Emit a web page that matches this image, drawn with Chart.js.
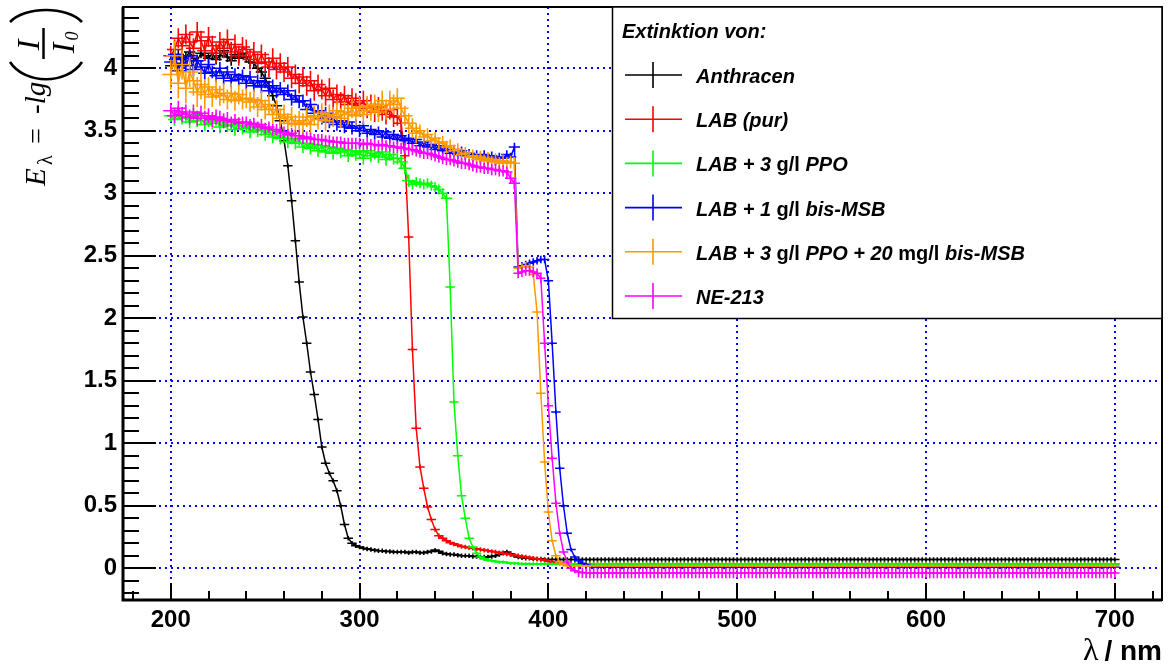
<!DOCTYPE html>
<html>
<head>
<meta charset="utf-8">
<script src="https://cdn.jsdelivr.net/npm/chart.js@4.4.1/dist/chart.umd.min.js"></script>
<style>
  html, body { margin: 0; padding: 0; background: #fff; }
  canvas { display: block; }
</style>
</head>
<body>
<canvas id="extinction" width="1169" height="666"></canvas>
<script>
// Wellenlaengen der Messpunkte (nm)
const wavelengths = [
  200, 202, 204, 206, 208, 210, 212, 214, 216, 218,
  220, 222, 224, 226, 228, 230, 232, 234, 236, 238,
  240, 242, 244, 246, 248, 250, 252, 254, 256, 258,
  260, 262, 264, 266, 268, 270, 272, 274, 276, 278,
  280, 282, 284, 286, 288, 290, 292, 294, 296, 298,
  300, 302, 304, 306, 308, 310, 312, 314, 316, 318,
  320, 322, 324, 326, 328, 330, 332, 334, 336, 338,
  340, 342, 344, 346, 348, 350, 352, 354, 356, 358,
  360, 362, 364, 366, 368, 370, 372, 374, 376, 378,
  380, 382, 384, 386, 388, 390, 392, 394, 396, 398,
  400, 402, 404, 406, 408, 410, 412, 414, 416, 418,
  420, 422, 424, 426, 428, 430, 432, 434, 436, 438,
  440, 442, 444, 446, 448, 450, 452, 454, 456, 458,
  460, 462, 464, 466, 468, 470, 472, 474, 476, 478,
  480, 482, 484, 486, 488, 490, 492, 494, 496, 498,
  500, 502, 504, 506, 508, 510, 512, 514, 516, 518,
  520, 522, 524, 526, 528, 530, 532, 534, 536, 538,
  540, 542, 544, 546, 548, 550, 552, 554, 556, 558,
  560, 562, 564, 566, 568, 570, 572, 574, 576, 578,
  580, 582, 584, 586, 588, 590, 592, 594, 596, 598,
  600, 602, 604, 606, 608, 610, 612, 614, 616, 618,
  620, 622, 624, 626, 628, 630, 632, 634, 636, 638,
  640, 642, 644, 646, 648, 650, 652, 654, 656, 658,
  660, 662, 664, 666, 668, 670, 672, 674, 676, 678,
  680, 682, 684, 686, 688, 690, 692, 694, 696, 698,
  700
];

// Extinktion E = -lg(I/I0) je Probe
const anthracen = [
  4.02, 4.07, 4.11, 4.04, 4.09, 4.13, 4.08, 4.06, 4.12, 4.10,
  4.08, 4.12, 4.07, 4.10, 4.14, 4.09, 4.06, 4.11, 4.08, 4.12,
  4.09, 4.05, 4.04, 4.00, 3.97, 3.92, 3.86, 3.78, 3.70, 3.58,
  3.42, 3.22, 2.94, 2.62, 2.29, 2.01, 1.80, 1.57, 1.39, 1.19,
  0.97, 0.84, 0.76, 0.70, 0.62, 0.50, 0.35, 0.24, 0.20, 0.18,
  0.17, 0.16, 0.155, 0.15, 0.145, 0.14, 0.14, 0.135, 0.135, 0.13,
  0.13, 0.13, 0.13, 0.125, 0.13, 0.13, 0.125, 0.125, 0.13, 0.135,
  0.145, 0.135, 0.12, 0.115, 0.11, 0.11, 0.105, 0.10, 0.10, 0.10,
  0.095, 0.095, 0.09, 0.09, 0.09, 0.095, 0.10, 0.11, 0.125, 0.13,
  0.115, 0.10, 0.09, 0.085, 0.08, 0.08, 0.075, 0.075, 0.075, 0.07,
  0.07, 0.07, 0.07, 0.07, 0.07, 0.07, 0.07, 0.07, 0.07, 0.07,
  0.07, 0.07, 0.07, 0.07, 0.07, 0.07, 0.07, 0.07, 0.07, 0.07,
  0.07, 0.07, 0.07, 0.07, 0.07, 0.07, 0.07, 0.07, 0.07, 0.07,
  0.07, 0.07, 0.07, 0.07, 0.07, 0.07, 0.07, 0.07, 0.07, 0.07,
  0.07, 0.07, 0.07, 0.07, 0.07, 0.07, 0.07, 0.07, 0.07, 0.07,
  0.07, 0.07, 0.07, 0.07, 0.07, 0.07, 0.07, 0.07, 0.07, 0.07,
  0.07, 0.07, 0.07, 0.07, 0.07, 0.07, 0.07, 0.07, 0.07, 0.07,
  0.07, 0.07, 0.07, 0.07, 0.07, 0.07, 0.07, 0.07, 0.07, 0.07,
  0.07, 0.07, 0.07, 0.07, 0.07, 0.07, 0.07, 0.07, 0.07, 0.07,
  0.07, 0.07, 0.07, 0.07, 0.07, 0.07, 0.07, 0.07, 0.07, 0.07,
  0.07, 0.07, 0.07, 0.07, 0.07, 0.07, 0.07, 0.07, 0.07, 0.07,
  0.07, 0.07, 0.07, 0.07, 0.07, 0.07, 0.07, 0.07, 0.07, 0.07,
  0.07, 0.07, 0.07, 0.07, 0.07, 0.07, 0.07, 0.07, 0.07, 0.07,
  0.07, 0.07, 0.07, 0.07, 0.07, 0.07, 0.07, 0.07, 0.07, 0.07,
  0.07, 0.07, 0.07, 0.07, 0.07, 0.07, 0.07, 0.07, 0.07, 0.07,
  0.07
];

const labPur = [
  4.10, 4.15, 4.24, 4.18, 4.27, 4.21, 4.16, 4.29, 4.22, 4.14,
  4.25, 4.18, 4.12, 4.21, 4.16, 4.23, 4.13, 4.19, 4.10, 4.17,
  4.15, 4.07, 4.13, 4.04, 4.11, 4.05, 4.01, 4.08, 3.99, 4.04,
  3.97, 4.01, 3.92, 3.95, 3.88, 3.93, 3.86, 3.90, 3.82, 3.87,
  3.83, 3.78, 3.84, 3.75, 3.79, 3.73, 3.78, 3.71, 3.76, 3.72,
  3.70, 3.74, 3.68, 3.71, 3.65, 3.69, 3.66, 3.63, 3.67, 3.61,
  3.62, 3.56, 3.30, 2.65, 1.75, 1.12, 0.81, 0.64, 0.49, 0.39,
  0.31, 0.26, 0.24, 0.22, 0.205, 0.195, 0.185, 0.175, 0.17, 0.165,
  0.16, 0.155, 0.15, 0.145, 0.14, 0.135, 0.13, 0.125, 0.12, 0.115,
  0.11, 0.105, 0.10, 0.095, 0.09, 0.085, 0.08, 0.075, 0.07, 0.065,
  0.055, 0.05, 0.045, 0.04, 0.035, 0.035, 0.035, 0.035, 0.035, 0.035,
  0.035, 0.035, 0.035, 0.035, 0.035, 0.035, 0.035, 0.035, 0.035, 0.035,
  0.035, 0.035, 0.035, 0.035, 0.035, 0.035, 0.035, 0.035, 0.035, 0.035,
  0.035, 0.035, 0.035, 0.035, 0.035, 0.035, 0.035, 0.035, 0.035, 0.035,
  0.035, 0.035, 0.035, 0.035, 0.035, 0.035, 0.035, 0.035, 0.035, 0.035,
  0.035, 0.035, 0.035, 0.035, 0.035, 0.035, 0.035, 0.035, 0.035, 0.035,
  0.035, 0.035, 0.035, 0.035, 0.035, 0.035, 0.035, 0.035, 0.035, 0.035,
  0.035, 0.035, 0.035, 0.035, 0.035, 0.035, 0.035, 0.035, 0.035, 0.035,
  0.035, 0.035, 0.035, 0.035, 0.035, 0.035, 0.035, 0.035, 0.035, 0.035,
  0.035, 0.035, 0.035, 0.035, 0.035, 0.035, 0.035, 0.035, 0.035, 0.035,
  0.035, 0.035, 0.035, 0.035, 0.035, 0.035, 0.035, 0.035, 0.035, 0.035,
  0.035, 0.035, 0.035, 0.035, 0.035, 0.035, 0.035, 0.035, 0.035, 0.035,
  0.035, 0.035, 0.035, 0.035, 0.035, 0.035, 0.035, 0.035, 0.035, 0.035,
  0.035, 0.035, 0.035, 0.035, 0.035, 0.035, 0.035, 0.035, 0.035, 0.035,
  0.035, 0.035, 0.035, 0.035, 0.035, 0.035, 0.035, 0.035, 0.035, 0.035,
  0.035
];

const labPpo = [
  3.62, 3.59, 3.65, 3.60, 3.61, 3.57, 3.63, 3.58, 3.60, 3.55,
  3.58, 3.56, 3.59, 3.53, 3.57, 3.54, 3.55, 3.51, 3.56, 3.52,
  3.54, 3.49, 3.53, 3.50, 3.51, 3.47, 3.50, 3.45, 3.48, 3.44,
  3.46, 3.41, 3.44, 3.40, 3.43, 3.37, 3.40, 3.36, 3.39, 3.34,
  3.38, 3.33, 3.37, 3.32, 3.36, 3.33, 3.35, 3.30, 3.34, 3.31,
  3.33, 3.28, 3.34, 3.30, 3.32, 3.29, 3.33, 3.27, 3.31, 3.28,
  3.28, 3.25, 3.20, 3.10, 3.07, 3.09, 3.08, 3.07, 3.08, 3.06,
  3.05, 3.03, 3.00, 2.96, 2.25, 1.33, 0.90, 0.58, 0.40, 0.24,
  0.17, 0.12, 0.09, 0.075, 0.065, 0.06, 0.055, 0.05, 0.05, 0.045,
  0.04, 0.04, 0.038, 0.036, 0.035, 0.035, 0.035, 0.035, 0.035, 0.035,
  0.035, 0.035, 0.035, 0.035, 0.035, 0.035, 0.035, 0.035, 0.035, 0.035,
  0.035, 0.035, 0.035, 0.035, 0.035, 0.035, 0.035, 0.035, 0.035, 0.035,
  0.035, 0.035, 0.035, 0.035, 0.035, 0.035, 0.035, 0.035, 0.035, 0.035,
  0.035, 0.035, 0.035, 0.035, 0.035, 0.035, 0.035, 0.035, 0.035, 0.035,
  0.035, 0.035, 0.035, 0.035, 0.035, 0.035, 0.035, 0.035, 0.035, 0.035,
  0.035, 0.035, 0.035, 0.035, 0.035, 0.035, 0.035, 0.035, 0.035, 0.035,
  0.035, 0.035, 0.035, 0.035, 0.035, 0.035, 0.035, 0.035, 0.035, 0.035,
  0.035, 0.035, 0.035, 0.035, 0.035, 0.035, 0.035, 0.035, 0.035, 0.035,
  0.035, 0.035, 0.035, 0.035, 0.035, 0.035, 0.035, 0.035, 0.035, 0.035,
  0.035, 0.035, 0.035, 0.035, 0.035, 0.035, 0.035, 0.035, 0.035, 0.035,
  0.035, 0.035, 0.035, 0.035, 0.035, 0.035, 0.035, 0.035, 0.035, 0.035,
  0.035, 0.035, 0.035, 0.035, 0.035, 0.035, 0.035, 0.035, 0.035, 0.035,
  0.035, 0.035, 0.035, 0.035, 0.035, 0.035, 0.035, 0.035, 0.035, 0.035,
  0.035, 0.035, 0.035, 0.035, 0.035, 0.035, 0.035, 0.035, 0.035, 0.035,
  0.035, 0.035, 0.035, 0.035, 0.035, 0.035, 0.035, 0.035, 0.035, 0.035,
  0.035
];

const labMsb = [
  4.05, 4.11, 3.98, 4.08, 4.02, 4.10, 3.99, 4.06, 4.01, 3.96,
  4.03, 3.97, 3.94, 4.00, 3.92, 3.97, 3.90, 3.95, 3.91, 3.94,
  3.88, 3.93, 3.86, 3.90, 3.85, 3.89, 3.82, 3.86, 3.81, 3.84,
  3.79, 3.82, 3.75, 3.78, 3.73, 3.74, 3.67, 3.71, 3.64, 3.66,
  3.60, 3.64, 3.57, 3.61, 3.55, 3.58, 3.53, 3.57, 3.52, 3.54,
  3.50, 3.54, 3.48, 3.51, 3.47, 3.50, 3.45, 3.49, 3.44, 3.47,
  3.43, 3.46, 3.42, 3.44, 3.40, 3.43, 3.38, 3.41, 3.37, 3.39,
  3.35, 3.38, 3.34, 3.37, 3.32, 3.35, 3.31, 3.34, 3.30, 3.32,
  3.29, 3.31, 3.28, 3.31, 3.27, 3.30, 3.26, 3.29, 3.28, 3.31,
  3.29, 3.37, 2.41, 2.42, 2.43, 2.44, 2.45, 2.46, 2.47, 2.47,
  2.30, 1.80, 1.25, 0.80, 0.50, 0.28, 0.15, 0.09, 0.06, 0.04,
  0.03, 0.02, 0.015, 0.01, 0.01, 0.01, 0.01, 0.01, 0.01, 0.01,
  0.01, 0.01, 0.01, 0.01, 0.01, 0.01, 0.01, 0.01, 0.01, 0.01,
  0.01, 0.01, 0.01, 0.01, 0.01, 0.01, 0.01, 0.01, 0.01, 0.01,
  0.01, 0.01, 0.01, 0.01, 0.01, 0.01, 0.01, 0.01, 0.01, 0.01,
  0.01, 0.01, 0.01, 0.01, 0.01, 0.01, 0.01, 0.01, 0.01, 0.01,
  0.01, 0.01, 0.01, 0.01, 0.01, 0.01, 0.01, 0.01, 0.01, 0.01,
  0.01, 0.01, 0.01, 0.01, 0.01, 0.01, 0.01, 0.01, 0.01, 0.01,
  0.01, 0.01, 0.01, 0.01, 0.01, 0.01, 0.01, 0.01, 0.01, 0.01,
  0.01, 0.01, 0.01, 0.01, 0.01, 0.01, 0.01, 0.01, 0.01, 0.01,
  0.01, 0.01, 0.01, 0.01, 0.01, 0.01, 0.01, 0.01, 0.01, 0.01,
  0.01, 0.01, 0.01, 0.01, 0.01, 0.01, 0.01, 0.01, 0.01, 0.01,
  0.01, 0.01, 0.01, 0.01, 0.01, 0.01, 0.01, 0.01, 0.01, 0.01,
  0.01, 0.01, 0.01, 0.01, 0.01, 0.01, 0.01, 0.01, 0.01, 0.01,
  0.01, 0.01, 0.01, 0.01, 0.01, 0.01, 0.01, 0.01, 0.01, 0.01,
  0.01
];

const labPpoMsb = [
  3.95, 4.10, 3.88, 4.03, 3.84, 3.97, 3.90, 3.81, 3.87, 3.79,
  3.85, 3.77, 3.83, 3.78, 3.80, 3.75, 3.80, 3.74, 3.79, 3.75,
  3.76, 3.73, 3.75, 3.69, 3.74, 3.67, 3.71, 3.63, 3.67, 3.60,
  3.63, 3.56, 3.61, 3.55, 3.58, 3.56, 3.61, 3.55, 3.62, 3.59,
  3.64, 3.58, 3.63, 3.61, 3.66, 3.60, 3.65, 3.63, 3.68, 3.62,
  3.69, 3.63, 3.70, 3.66, 3.71, 3.65, 3.74, 3.67, 3.74, 3.71,
  3.76, 3.68, 3.62, 3.56, 3.52, 3.48, 3.50, 3.45, 3.47, 3.42,
  3.44, 3.40, 3.41, 3.37, 3.38, 3.34, 3.35, 3.31, 3.32, 3.29,
  3.30, 3.27, 3.29, 3.26, 3.28, 3.25, 3.27, 3.24, 3.26, 3.24,
  3.25, 3.24, 2.40, 2.41, 2.42, 2.41, 2.35, 2.05, 1.40, 0.85,
  0.45, 0.22, 0.10, 0.05, 0.03, 0.02, 0.02, 0.02, 0.02, 0.02,
  0.02, 0.02, 0.02, 0.02, 0.02, 0.02, 0.02, 0.02, 0.02, 0.02,
  0.02, 0.02, 0.02, 0.02, 0.02, 0.02, 0.02, 0.02, 0.02, 0.02,
  0.02, 0.02, 0.02, 0.02, 0.02, 0.02, 0.02, 0.02, 0.02, 0.02,
  0.02, 0.02, 0.02, 0.02, 0.02, 0.02, 0.02, 0.02, 0.02, 0.02,
  0.02, 0.02, 0.02, 0.02, 0.02, 0.02, 0.02, 0.02, 0.02, 0.02,
  0.02, 0.02, 0.02, 0.02, 0.02, 0.02, 0.02, 0.02, 0.02, 0.02,
  0.02, 0.02, 0.02, 0.02, 0.02, 0.02, 0.02, 0.02, 0.02, 0.02,
  0.02, 0.02, 0.02, 0.02, 0.02, 0.02, 0.02, 0.02, 0.02, 0.02,
  0.02, 0.02, 0.02, 0.02, 0.02, 0.02, 0.02, 0.02, 0.02, 0.02,
  0.02, 0.02, 0.02, 0.02, 0.02, 0.02, 0.02, 0.02, 0.02, 0.02,
  0.02, 0.02, 0.02, 0.02, 0.02, 0.02, 0.02, 0.02, 0.02, 0.02,
  0.02, 0.02, 0.02, 0.02, 0.02, 0.02, 0.02, 0.02, 0.02, 0.02,
  0.02, 0.02, 0.02, 0.02, 0.02, 0.02, 0.02, 0.02, 0.02, 0.02,
  0.02, 0.02, 0.02, 0.02, 0.02, 0.02, 0.02, 0.02, 0.02, 0.02,
  0.02
];

const ne213 = [
  3.66, 3.62, 3.68, 3.63, 3.65, 3.61, 3.65, 3.60, 3.64, 3.60,
  3.62, 3.59, 3.61, 3.60, 3.58, 3.59, 3.57, 3.59, 3.56, 3.57,
  3.57, 3.55, 3.56, 3.53, 3.55, 3.52, 3.53, 3.51, 3.51, 3.49,
  3.49, 3.47, 3.48, 3.46, 3.46, 3.44, 3.45, 3.44, 3.43, 3.43,
  3.43, 3.42, 3.42, 3.41, 3.41, 3.41, 3.40, 3.40, 3.40, 3.40,
  3.40, 3.39, 3.40, 3.39, 3.39, 3.38, 3.39, 3.38, 3.38, 3.37,
  3.37, 3.36, 3.36, 3.35, 3.35, 3.34, 3.33, 3.32, 3.32, 3.31,
  3.30, 3.29, 3.28, 3.27, 3.27, 3.26, 3.25, 3.24, 3.24, 3.23,
  3.22, 3.21, 3.21, 3.20, 3.20, 3.19, 3.19, 3.18, 3.18, 3.17,
  3.12, 3.08, 2.36, 2.37, 2.38, 2.38, 2.37, 2.36, 2.32, 1.80,
  1.30, 0.88, 0.52, 0.28, 0.13, 0.05, 0.00, -0.02, -0.03, -0.035,
  -0.038, -0.038, -0.038, -0.038, -0.038, -0.038, -0.038, -0.038, -0.038, -0.038,
  -0.038, -0.038, -0.038, -0.038, -0.038, -0.038, -0.038, -0.038, -0.038, -0.038,
  -0.038, -0.038, -0.038, -0.038, -0.038, -0.038, -0.038, -0.038, -0.038, -0.038,
  -0.038, -0.038, -0.038, -0.038, -0.038, -0.038, -0.038, -0.038, -0.038, -0.038,
  -0.038, -0.038, -0.038, -0.038, -0.038, -0.038, -0.038, -0.038, -0.038, -0.038,
  -0.038, -0.038, -0.038, -0.038, -0.038, -0.038, -0.038, -0.038, -0.038, -0.038,
  -0.038, -0.038, -0.038, -0.038, -0.038, -0.038, -0.038, -0.038, -0.038, -0.038,
  -0.038, -0.038, -0.038, -0.038, -0.038, -0.038, -0.038, -0.038, -0.038, -0.038,
  -0.038, -0.038, -0.038, -0.038, -0.038, -0.038, -0.038, -0.038, -0.038, -0.038,
  -0.038, -0.038, -0.038, -0.038, -0.038, -0.038, -0.038, -0.038, -0.038, -0.038,
  -0.038, -0.038, -0.038, -0.038, -0.038, -0.038, -0.038, -0.038, -0.038, -0.038,
  -0.038, -0.038, -0.038, -0.038, -0.038, -0.038, -0.038, -0.038, -0.038, -0.038,
  -0.038, -0.038, -0.038, -0.038, -0.038, -0.038, -0.038, -0.038, -0.038, -0.038,
  -0.038, -0.038, -0.038, -0.038, -0.038, -0.038, -0.038, -0.038, -0.038, -0.038,
  -0.038
];

// Fehler: [bis Wellenlaenge (nm), Fehler in E, halbe Breite in nm]
const anthracenErr = [[258, 0.04, 3], [700, 0.018, 2.5]];
const labPurErr = [[322, 0.08, 4], [700, 0.018, 2.5]];
const labPpoErr = [[326, 0.05, 3.5], [346, 0.04, 3], [700, 0.013, 2.5]];
const labMsbErr = [[300, 0.05, 3.5], [382, 0.035, 3], [398, 0.03, 2.5], [700, 0.015, 2.5]];
const labPpoMsbErr = [[218, 0.12, 4.5], [330, 0.08, 4], [382, 0.05, 3], [392, 0.03, 2.5], [700, 0.01, 2.5]];
const ne213Err = [[230, 0.06, 4], [382, 0.045, 3], [398, 0.04, 2.5], [414, 0.02, 2.5], [700, 0.042, 2.5]];

const seriesLabels = ['Anthracen', 'LAB (pur)', 'LAB + 3 g/l PPO', 'LAB + 1 g/l bis-MSB',
  'LAB + 3 g/l PPO + 20 mg/l bis-MSB', 'NE-213'];
const seriesValues = [anthracen, labPur, labPpo, labMsb, labPpoMsb, ne213];
const seriesErrors = [anthracenErr, labPurErr, labPpoErr, labMsbErr, labPpoMsbErr, ne213Err];
const seriesColors = ['#000000', '#ff0000', '#00ff00', '#0000ff', '#ff9900', '#ff00ff'];

const xTicks = { min: 174.7, max: 725, step: 100, minor: 20 };
const yTicks = { min: -0.254, max: 4.49, step: 0.5, minor: 0.1 };

function errAt(bands, lambda) {
  for (const b of bands) {
    if (lambda <= b[0]) return b;
  }
  return bands[bands.length - 1];
}

const datasets = seriesValues.map((vals, i) => ({
  label: seriesLabels[i],
  data: wavelengths.map((w, k) => ({ x: w, y: vals[k] })),
  borderColor: seriesColors[i],
  backgroundColor: seriesColors[i],
  borderWidth: 1.5,
  pointRadius: 0,
  tension: 0,
  order: seriesValues.length - i,
  errBands: seriesErrors[i]
}));

// Fehlerkreuze nach jeder Kurve, damit die Zeichenreihenfolge stimmt
const errorBars = {
  id: 'errorBars',
  afterDatasetDraw(chart, args) {
    const ds = chart.data.datasets[args.index];
    const xs = chart.scales.x, ys = chart.scales.y;
    const area = chart.chartArea;
    const ctx = chart.ctx;
    ctx.save();
    ctx.beginPath();
    ctx.rect(area.left, area.top, area.right - area.left, area.bottom - area.top);
    ctx.clip();
    ctx.strokeStyle = ds.borderColor;
    ctx.lineWidth = 1.6;
    ctx.beginPath();
    ds.data.forEach(p => {
      const [, e, dx] = errAt(ds.errBands, p.x);
      const px = xs.getPixelForValue(p.x);
      const py = ys.getPixelForValue(p.y);
      ctx.moveTo(xs.getPixelForValue(p.x - dx), py);
      ctx.lineTo(xs.getPixelForValue(p.x + dx), py);
      ctx.moveTo(px, ys.getPixelForValue(p.y + e));
      ctx.lineTo(px, ys.getPixelForValue(p.y - e));
    });
    ctx.stroke();
    ctx.restore();
  }
};

// Rahmen und Teilstriche innen am Rahmen
const frameTicks = {
  id: 'frameTicks',
  afterDatasetsDraw(chart) {
    const ctx = chart.ctx;
    const a = chart.chartArea;
    const xs = chart.scales.x, ys = chart.scales.y;
    ctx.save();
    ctx.strokeStyle = '#000';
    ctx.lineWidth = 2;
    ctx.beginPath();
    const x0 = Math.ceil(xTicks.min / xTicks.minor) * xTicks.minor;
    for (let v = x0; v <= xTicks.max; v += xTicks.minor) {
      const px = Math.round(xs.getPixelForValue(v));
      const len = (v % xTicks.step === 0) ? 17 : 9;
      ctx.moveTo(px, a.bottom);
      ctx.lineTo(px, a.bottom - len);
    }
    const y0 = Math.ceil(yTicks.min / yTicks.minor);
    const y1 = Math.floor(yTicks.max / yTicks.minor);
    for (let k = y0; k <= y1; k++) {
      const py = Math.round(ys.getPixelForValue(k * yTicks.minor));
      const len = (k % 5 === 0) ? 33 : 16;
      ctx.moveTo(a.left, py);
      ctx.lineTo(a.left + len, py);
    }
    ctx.stroke();
    ctx.lineWidth = 2;
    ctx.strokeRect(a.left, a.top, a.right - a.left, a.bottom - a.top);
    ctx.lineWidth = 3;
    ctx.beginPath();
    ctx.moveTo(a.left, a.top);
    ctx.lineTo(a.left, a.bottom);
    ctx.lineTo(a.right, a.bottom);
    ctx.stroke();
    ctx.restore();
  }
};

function drawLegendLabel(ctx, label, x, y) {
  label.split(/(m?g\/l)/).forEach(part => {
    if (!part) return;
    const upright = /^m?g\/l$/.test(part);
    ctx.font = (upright ? 'bold ' : 'italic bold ') + '20px "Liberation Sans"';
    ctx.fillText(part, x, y);
    x += ctx.measureText(part).width;
  });
}

// Legende, Achsentitel
const decorations = {
  id: 'decorations',
  afterDraw(chart) {
    const ctx = chart.ctx;
    const a = chart.chartArea;
    ctx.save();

    // Legendenkasten
    const bx = 612.5, by = a.top, bw = a.right - bx, bh = 311.5;
    ctx.fillStyle = '#fff';
    ctx.fillRect(bx, by, bw, bh);
    ctx.strokeStyle = '#000';
    ctx.lineWidth = 1.5;
    ctx.strokeRect(bx, by, bw, bh);

    ctx.fillStyle = '#000';
    ctx.textBaseline = 'alphabetic';
    ctx.font = 'italic bold 20px "Liberation Sans"';
    ctx.fillText('Extinktion von:', 622, 38);

    chart.data.datasets.forEach((ds, i) => {
      const cy = 75 + i * 44.2;
      ctx.strokeStyle = ds.borderColor;
      ctx.lineWidth = 1.6;
      ctx.beginPath();
      ctx.moveTo(625, cy);
      ctx.lineTo(682, cy);
      ctx.moveTo(653, cy - 13);
      ctx.lineTo(653, cy + 13);
      ctx.stroke();
      ctx.fillStyle = '#000';
      drawLegendLabel(ctx, ds.label, 696, cy + 8);
    });

    // x-Achsentitel
    ctx.fillStyle = '#000';
    ctx.textAlign = 'right';
    ctx.font = 'bold 28px "Liberation Sans"';
    const unit = '/ nm';
    ctx.fillText(unit, 1162, 660);
    const uw = ctx.measureText(unit).width;
    ctx.font = '32px "Liberation Serif"';
    ctx.fillText('\u03bb', 1162 - uw - 6, 660);
    ctx.textAlign = 'left';

    // y-Achsentitel  E_lambda = -lg(I/I0), gedreht
    ctx.translate(45, 186);
    ctx.rotate(-Math.PI / 2);
    ctx.strokeStyle = '#000';
    ctx.font = 'italic 29px "Liberation Serif"';
    ctx.fillText('E', 0, 0);
    ctx.font = '20px "Liberation Serif"';
    ctx.fillText('\u03bb', 21, 7);
    ctx.font = '28px "Liberation Serif"';
    ctx.fillText('=', 42, 0);
    ctx.font = 'italic 29px "Liberation Serif"';
    ctx.fillText('-lg', 72, 0);

    ctx.lineWidth = 2.6;
    ctx.beginPath();
    ctx.moveTo(124, -35);
    ctx.bezierCurveTo(101, -20, 101, 22, 124, 37);
    ctx.moveTo(164, -35);
    ctx.bezierCurveTo(180, -20, 180, 22, 164, 37);
    ctx.stroke();

    ctx.textAlign = 'center';
    ctx.font = 'italic 32px "Liberation Serif"';
    ctx.fillText('I', 141, -6);
    ctx.fillText('I', 138, 29);
    ctx.font = 'italic 18px "Liberation Serif"';
    ctx.fillText('0', 150, 33);
    ctx.lineWidth = 2.5;
    ctx.beginPath();
    ctx.moveTo(127, -1.5);
    ctx.lineTo(158, -1.5);
    ctx.stroke();

    ctx.restore();
  }
};

Chart.defaults.font.family = '"Liberation Sans", Arial, sans-serif';

new Chart(document.getElementById('extinction'), {
  type: 'line',
  data: { datasets },
  options: {
    responsive: false,
    animation: false,
    parsing: false,
    normalized: true,
    layout: { padding: { top: 7, right: 7, left: 0, bottom: 0 } },
    plugins: {
      legend: { display: false },
      tooltip: { enabled: false }
    },
    scales: {
      x: {
        type: 'linear',
        min: xTicks.min,
        max: xTicks.max,
        ticks: {
          stepSize: xTicks.step,
          includeBounds: false,
          autoSkip: false,
          maxRotation: 0,
          padding: 6,
          color: '#000',
          font: { size: 24, weight: 'bold' }
        },
        grid: { color: '#0000ff', lineWidth: 2, drawTicks: false },
        border: { display: false, dash: [2, 4] },
        afterFit(scale) {
          scale.height = 66;
          scale.paddingLeft = 0;
          scale.paddingRight = 0;
        }
      },
      y: {
        type: 'linear',
        min: yTicks.min,
        max: yTicks.max,
        ticks: {
          stepSize: yTicks.step,
          includeBounds: false,
          autoSkip: false,
          padding: 6,
          color: '#000',
          font: { size: 24, weight: 'bold' },
          callback: v => String(v)
        },
        grid: { color: '#0000ff', lineWidth: 2, drawTicks: false },
        border: { display: false, dash: [2, 4] },
        afterFit(scale) {
          scale.width = 123;
          scale.paddingTop = 0;
          scale.paddingBottom = 0;
        }
      }
    }
  },
  plugins: [errorBars, frameTicks, decorations]
});
</script>
</body>
</html>
